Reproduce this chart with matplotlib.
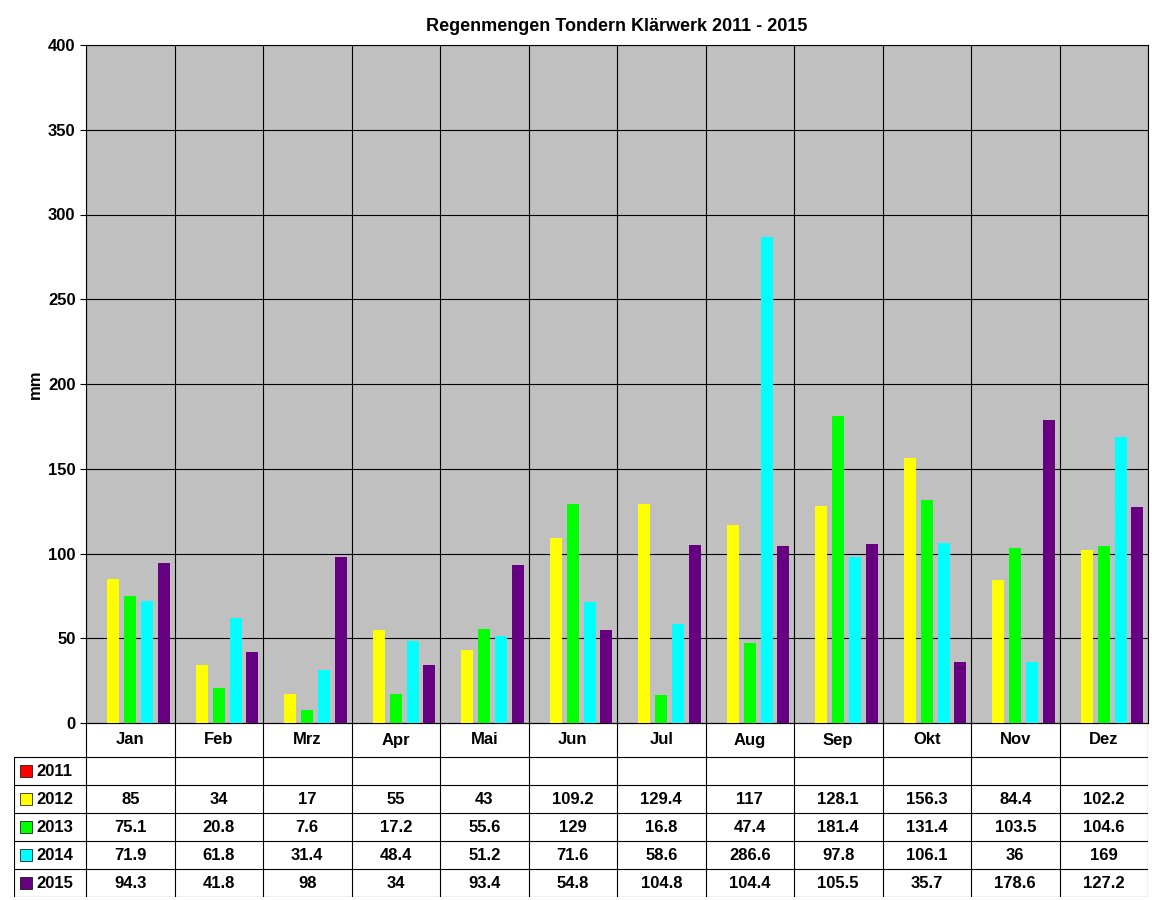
import numpy as np
import matplotlib.pyplot as plt

plt.rcParams["font.family"] = ["Liberation Sans", "DejaVu Sans"]
plt.rcParams["font.weight"] = "bold"

months = ["Jan", "Feb", "Mrz", "Apr", "Mai", "Jun", "Jul", "Aug", "Sep", "Okt", "Nov", "Dez"]
years = ["2011", "2012", "2013", "2014", "2015"]
colors = ["#FF0000", "#FFFF00", "#00FF00", "#00FFFF", "#660080"]
v2011 = [None] * 12
v2012 = [85, 34, 17, 55, 43, 109.2, 129.4, 117, 128.1, 156.3, 84.4, 102.2]
v2013 = [75.1, 20.8, 7.6, 17.2, 55.6, 129, 16.8, 47.4, 181.4, 131.4, 103.5, 104.6]
v2014 = [71.9, 61.8, 31.4, 48.4, 51.2, 71.6, 58.6, 286.6, 97.8, 106.1, 36, 169]
v2015 = [94.3, 41.8, 98, 34, 93.4, 54.8, 104.8, 104.4, 105.5, 35.7, 178.6, 127.2]
series = [v2011, v2012, v2013, v2014, v2015]

W, H = 1152, 900
fig = plt.figure(figsize=(W / 100, H / 100), dpi=100)
fig.patch.set_facecolor("white")

def rect(x0, y0, x1, y1):
    return [x0 / W, 1 - y1 / H, (x1 - x0) / W, (y1 - y0) / H]

ax = fig.add_axes(rect(86, 45, 1148, 723))
ax.set_facecolor("#C0C0C0")
x = np.arange(12)
for k, (vals, c) in enumerate(zip(series, colors)):
    h = [v if v is not None else 0 for v in vals]
    ax.bar(x + (k - 2) * 0.19, h, 0.135, color=c, zorder=3)
ax.set_xlim(-0.5, 11.5)
ax.set_ylim(0, 400)
ax.set_yticks(range(0, 401, 50))
ax.set_xticks(np.arange(-0.5, 12, 1))
ax.tick_params(axis="x", length=0, labelbottom=False)
ax.tick_params(axis="y", labelsize=12, direction="out", length=4)
ax.grid(True, color="black", linewidth=0.8, zorder=1)
for s in ax.spines.values():
    s.set_linewidth(0.8)
ax.set_ylabel("mm", fontsize=12, fontweight="bold")
ax.set_title("Regenmengen Tondern Klärwerk 2011 - 2015", fontsize=13, fontweight="bold", pad=10)

# data table
lw = 72 / 88.5
tx = fig.add_axes(rect(14, 723, 1148, 897))
tx.set_xlim(-lw - 0.5, 11.5)
tx.set_ylim(174, 0)
tx.axis("off")
rows_y = [0, 34, 62, 90, 118, 146, 174]
for i in range(13):
    tx.plot([i - 0.5, i - 0.5], [0, 174], color="black", lw=0.8)
tx.plot([-lw - 0.5, -lw - 0.5], [34, 174], color="black", lw=0.8)
for j, y in enumerate(rows_y):
    x0 = -0.5 if j == 0 else -lw - 0.5
    tx.plot([x0, 11.5], [y, y], color="black", lw=0.8)
for i, m in enumerate(months):
    tx.text(i, 17, m, ha="center", va="center", fontsize=12, fontweight="bold")
for r, (yr, vals, c) in enumerate(zip(years, series, colors)):
    yc = (rows_y[r + 1] + rows_y[r + 2]) / 2
    tx.scatter([-lw - 0.5 + 0.13], [yc], marker="s", s=70, color=c, edgecolors="black", linewidths=0.5)
    tx.text(-lw - 0.5 + 0.25, yc, yr, ha="left", va="center", fontsize=12, fontweight="bold")
    for i, v in enumerate(vals):
        if v is not None:
            tx.text(i, yc, f"{v:g}", ha="center", va="center", fontsize=12, fontweight="bold")

fig.savefig("out.png", dpi=100, facecolor="white")
